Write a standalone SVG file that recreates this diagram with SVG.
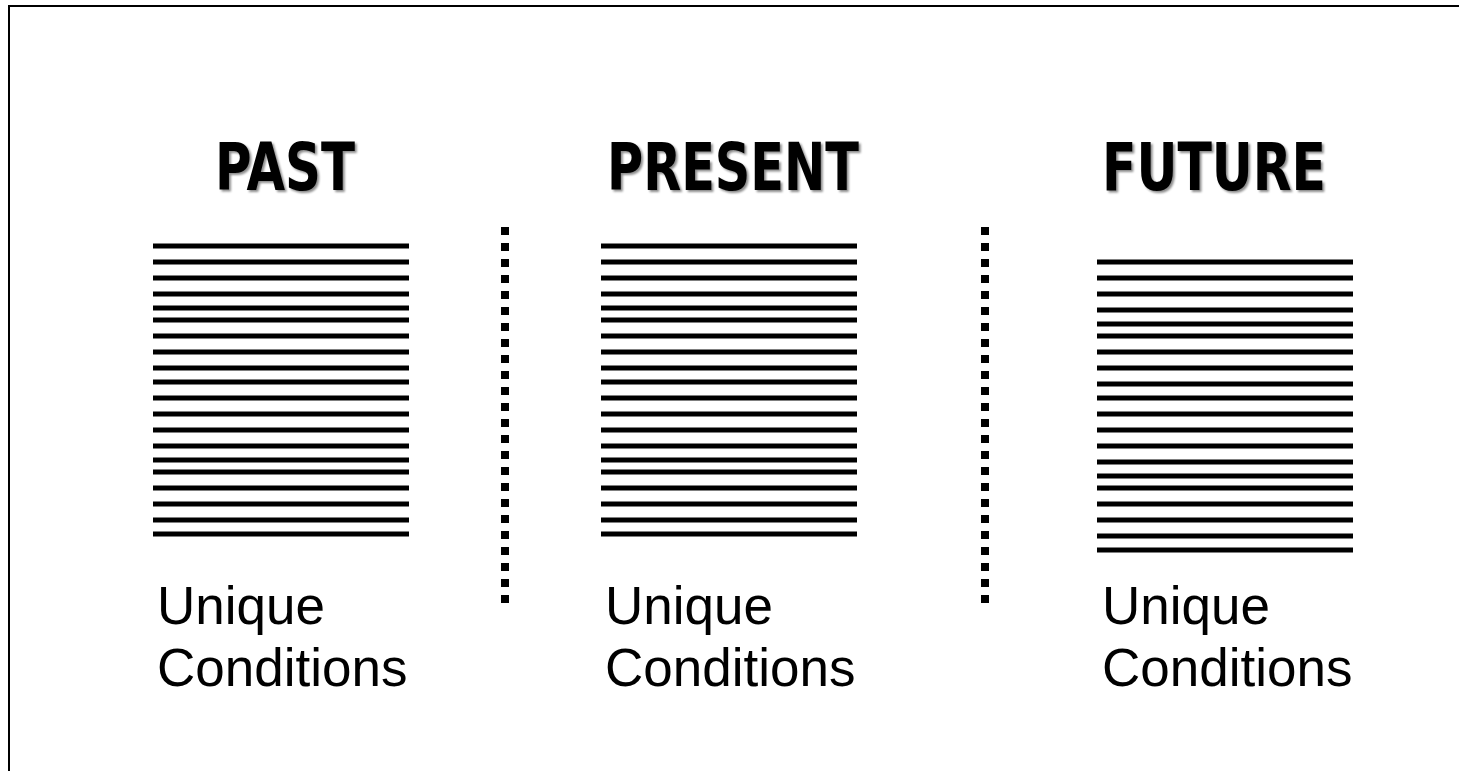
<svg xmlns="http://www.w3.org/2000/svg" width="1459" height="771" viewBox="0 0 1459 771">
<defs>
<style>
.title{font-family:"DejaVu Sans Condensed","DejaVu Sans",sans-serif;font-weight:bold;font-size:65px;fill:#000;}
.lbl{font-family:"Liberation Sans",Arial,sans-serif;font-size:53px;fill:#000;}
.bar{stroke:#000;stroke-width:5;}
.sep{stroke:#000;stroke-width:8;stroke-dasharray:8 8;fill:none;}
</style>
<filter id="sh" x="-10%" y="-20%" width="130%" height="150%">
<feDropShadow dx="2" dy="2" stdDeviation="1.2" flood-color="#000" flood-opacity="0.45"/>
</filter>
<g id="bars">
<line class="bar" x1="0" y1="0" x2="256" y2="0"/>
<line class="bar" x1="0" y1="16" x2="256" y2="16"/>
<line class="bar" x1="0" y1="32" x2="256" y2="32"/>
<line class="bar" x1="0" y1="48" x2="256" y2="48"/>
<line class="bar" x1="0" y1="62" x2="256" y2="62"/>
<line class="bar" x1="0" y1="74" x2="256" y2="74"/>
<line class="bar" x1="0" y1="90" x2="256" y2="90"/>
<line class="bar" x1="0" y1="106" x2="256" y2="106"/>
<line class="bar" x1="0" y1="122" x2="256" y2="122"/>
<line class="bar" x1="0" y1="136" x2="256" y2="136"/>
<line class="bar" x1="0" y1="152" x2="256" y2="152"/>
<line class="bar" x1="0" y1="168" x2="256" y2="168"/>
<line class="bar" x1="0" y1="184" x2="256" y2="184"/>
<line class="bar" x1="0" y1="200" x2="256" y2="200"/>
<line class="bar" x1="0" y1="214" x2="256" y2="214"/>
<line class="bar" x1="0" y1="226" x2="256" y2="226"/>
<line class="bar" x1="0" y1="242" x2="256" y2="242"/>
<line class="bar" x1="0" y1="258" x2="256" y2="258"/>
<line class="bar" x1="0" y1="274" x2="256" y2="274"/>
<line class="bar" x1="0" y1="288" x2="256" y2="288"/>
</g>
</defs>
<rect x="0" y="0" width="1459" height="771" fill="#fff"/>
<rect x="9" y="6" width="1470" height="790" fill="none" stroke="#000" stroke-width="2"/>

<g id="past">
<text class="title" x="215" y="190" textLength="140" lengthAdjust="spacingAndGlyphs" filter="url(#sh)">PAST</text>
<use href="#bars" x="153" y="246"/>
<text class="lbl" x="157" y="624">Unique</text>
<text class="lbl" x="157" y="686">Conditions</text>
</g>

<g id="present">
<text class="title" x="607" y="190" textLength="252" lengthAdjust="spacingAndGlyphs" filter="url(#sh)">PRESENT</text>
<use href="#bars" x="601" y="246"/>
<text class="lbl" x="605" y="624">Unique</text>
<text class="lbl" x="605" y="686">Conditions</text>
</g>

<g id="future">
<text class="title" x="1102" y="190" textLength="224" lengthAdjust="spacingAndGlyphs" filter="url(#sh)">FUTURE</text>
<use href="#bars" x="1097" y="262"/>
<text class="lbl" x="1102" y="624">Unique</text>
<text class="lbl" x="1102" y="686">Conditions</text>
</g>

<g id="connectors">
<line class="sep" x1="505" y1="227" x2="505" y2="603"/>
<line class="sep" x1="985" y1="227" x2="985" y2="603"/>
</g>
</svg>
